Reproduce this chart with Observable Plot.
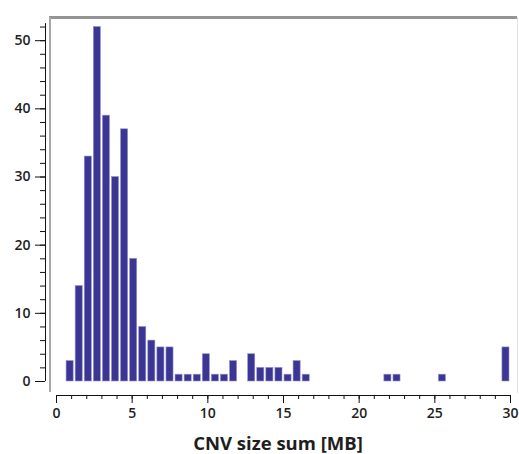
<!DOCTYPE html>
<html><head><meta charset="utf-8">
<script src="https://cdn.jsdelivr.net/npm/d3@7"></script>
<script src="https://cdn.jsdelivr.net/npm/@observablehq/plot@0.6"></script>
<style>body{margin:0;background:#fff}</style>
</head><body><div id="chart"></div>
<script>
// Histogram bins (left edge in MB) and counts
const binStarts = [0.6, 1.2, 1.8, 2.4, 3.0, 3.6, 4.2, 4.8, 5.4, 6.0, 6.6, 7.2, 7.8, 8.4, 9.0, 9.6, 10.2, 10.8, 11.4, 12.6, 13.2, 13.8, 14.4, 15.0, 15.6, 16.2, 21.6, 22.2, 25.2, 29.4];
const counts    = [3,   14,  33,  52,  39,  30,  37,  18,  8,   6,   5,   5,   1,   1,   1,   4,   1,    1,    3,    4,    2,    2,    2,    1,    3,    1,    1,    1,    1,    5];
const binWidth = 0.6;
const xMajorTicks = [0, 5, 10, 15, 20, 25, 30];
const xMinorTicks = [0,1,2,3,4,5,6,7,8,9,10,11,12,13,14,15,16,17,18,19,20,21,22,23,24,25,26,27,28,29,30];
const yMajorTicks = [0, 10, 20, 30, 40, 50];
const yMinorTicks = [0,2,4,6,8,10,12,14,16,18,20,22,24,26,28,30,32,34,36,38,40,42,44,46,48,50,52];
const xLabel = "CNV size sum [MB]";
const yTop = 53.4;
const yAxisTop = 52.5;

const bins = binStarts.map((x, i) => ({x1: x, x2: x + binWidth, count: counts[i]}));
const textColor = "#1e1e1e";

const chart = Plot.plot({
  width: 519,
  height: 454,
  marginLeft: 45,
  marginRight: 9,
  marginTop: 17,
  marginBottom: 59,
  x: {domain: [0, 30], insetLeft: 11},
  y: {domain: [0, yTop], insetBottom: 14},
  style: {fontFamily: "Open Sans", background: "white", color: textColor, overflow: "visible"},
  marks: [
    // decorative chart frame
    Plot.ruleY([yTop], {insetLeft: 4, insetRight: -7, stroke: "#959595", strokeWidth: 3}),
    Plot.ruleX([0], {dx: -6.5, insetBottom: 3, stroke: "#a8a8a8", strokeWidth: 2}),
    Plot.ruleX([30], {dx: 7, insetBottom: 2, stroke: "#e2e2e2", strokeWidth: 1}),
    // bars
    Plot.rectY(bins, {x1: "x1", x2: "x2", y: "count", fill: "#3b3694", stroke: "#9693cc", strokeWidth: 0.6, insetLeft: 1, insetRight: 1}),
    // y axis
    Plot.ruleX([0], {y1: 0, y2: yAxisTop, dx: -11, stroke: "#111"}),
    Plot.axisY(yMinorTicks, {anchor: "left", tickSize: 5, tickFormat: () => "", label: null, stroke: "#111"}),
    Plot.axisY(yMajorTicks, {anchor: "left", tickSize: 10, tickPadding: 5, fontSize: 14, fontWeight: 600, label: null, stroke: "#111", fill: textColor}),
    // x axis
    Plot.ruleY([0], {x1: 0, x2: 30, dy: 14, stroke: "#111"}),
    Plot.axisX(xMinorTicks, {anchor: "bottom", tickSize: 4, tickFormat: () => "", label: null, stroke: "#111"}),
    Plot.axisX(xMajorTicks, {anchor: "bottom", tickSize: 8, tickPadding: 5, fontSize: 14, fontWeight: 600, label: null, stroke: "#111", fill: textColor}),
    Plot.text([xLabel], {text: d => d, frameAnchor: "bottom", dy: 49, lineAnchor: "middle", fontSize: 18.5, fontWeight: "bold", fill: textColor})
  ]
});
document.getElementById("chart").appendChild(chart);
</script>
</body></html>
